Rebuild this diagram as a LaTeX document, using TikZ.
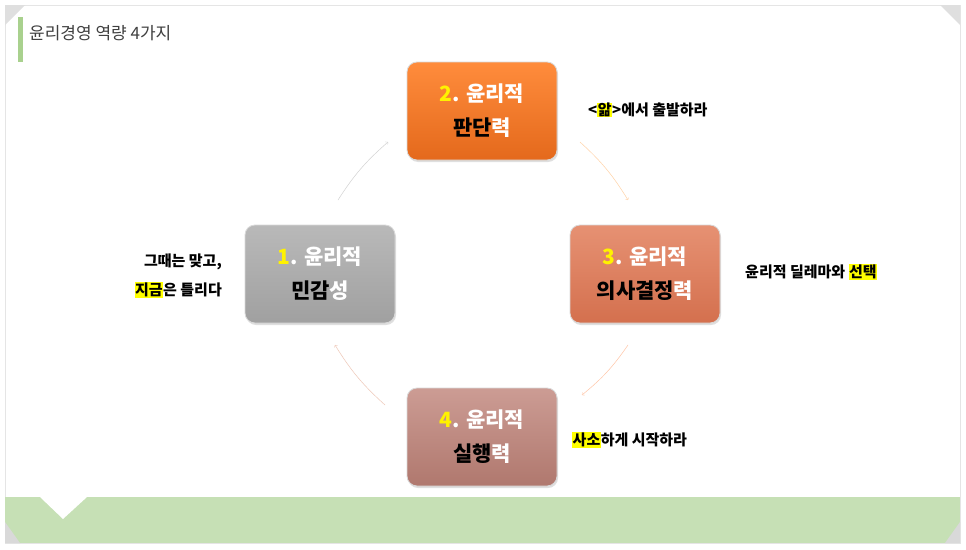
\documentclass[tikz,border=0pt]{standalone}
\usepackage{fontspec}
\setmainfont{Noto Sans CJK KR}
\usetikzlibrary{shadows}
\definecolor{hl}{HTML}{FFFF00}
\definecolor{band}{RGB}{198,224,181}
\definecolor{tbar}{RGB}{169,209,142}
\definecolor{ttxt}{RGB}{64,64,64}
\definecolor{o1}{RGB}{255,140,60}\definecolor{o2}{RGB}{228,105,28}
\definecolor{r1}{RGB}{230,145,115}\definecolor{r2}{RGB}{212,112,78}
\definecolor{m1}{RGB}{204,156,148}\definecolor{m2}{RGB}{176,120,110}
\definecolor{g1}{RGB}{185,185,185}\definecolor{g2}{RGB}{160,160,160}
\newcommand{\hlt}[1]{{\setlength{\fboxsep}{0.5pt}\colorbox{hl}{#1}}}
\begin{document}
\begin{tikzpicture}[x=1pt,y=-1pt,
  box/.style={rounded corners=10pt,minimum width=150pt,minimum height=98pt,draw=white!70!gray,line width=0.8pt,align=center,font=\bfseries\fontsize{21}{34}\selectfont,drop shadow={opacity=0.25,shadow xshift=1pt,shadow yshift=-2pt}},
  side/.style={font=\bfseries\fontsize{15}{28}\selectfont,inner sep=0pt},
  arc/.style={->,line width=0.5pt}]
\useasboundingbox (0,0) rectangle (966,549);
\fill[white] (0,0) rectangle (966,549);
\draw[gray!20] (5,5) rectangle (960,543);
\fill[gray!25] (5,5) -- (25,5) -- (5,25) -- cycle;
\fill[gray!25] (940,5) -- (960,5) -- (960,25) -- cycle;
\fill[band] (5,497) rectangle (960,543);
\fill[white] (40,497) -- (87,497) -- (63,519) -- cycle;
\fill[gray!30] (5,522) -- (5,543) -- (20,543) -- cycle;
\fill[gray!30] (960,522) -- (960,543) -- (945,543) -- cycle;
\fill[tbar] (18,17) rectangle (23,62);
\node[anchor=west,text=ttxt,font=\fontsize{17}{20}\selectfont,inner sep=0pt] (title) at (29,33) {윤리경영 역량 4가지};
\node[box,top color=o1,bottom color=o2] (b2) at (482,111) {\textcolor{yellow}{2}\textcolor{white}{. 윤리적}\\판단\textcolor{white}{력}};
\node[box,top color=r1,bottom color=r2] (b3) at (645,274) {\textcolor{yellow}{3}\textcolor{white}{. 윤리적}\\의사결정\textcolor{white}{력}};
\node[box,top color=m1,bottom color=m2] (b4) at (482,437) {\textcolor{yellow}{4}\textcolor{white}{. 윤리적}\\실행\textcolor{white}{력}};
\node[box,top color=g1,bottom color=g2] (b1) at (320,274) {\textcolor{yellow}{1}\textcolor{white}{. 윤리적}\\민감\textcolor{white}{성}};
\coordinate (a1s) at (338,200); \coordinate (a1e) at (388,142);
\coordinate (a2s) at (580,142); \coordinate (a2e) at (628,200);
\coordinate (a3s) at (628,345); \coordinate (a3e) at (582,395);
\coordinate (a4s) at (385,405); \coordinate (a4e) at (335,345);
\draw[arc,gray!35] (a1s) to[bend left=8] (a1e);
\draw[arc,orange!35] (a2s) to[bend left=8] (a2e);
\draw[arc,red!30!orange!35] (a3s) to[bend left=8] (a3e);
\draw[arc,red!25!brown!35] (a4s) to[bend left=8] (a4e);
\node[side,anchor=west] (t2) at (588,110) {<\hlt{앎}>에서 출발하라};
\node[side,anchor=west] (t3) at (745,272) {윤리적 딜레마와 \hlt{선택}};
\node[side,anchor=west] (t4) at (572,440) {\hlt{사소}하게 시작하라};
\node[side,anchor=east] (t1a) at (222,262) {그때는 맞고,};
\node[side,anchor=east] (t1b) at (222,290) {\hlt{지금}은 틀리다};
\end{tikzpicture}
\end{document}
